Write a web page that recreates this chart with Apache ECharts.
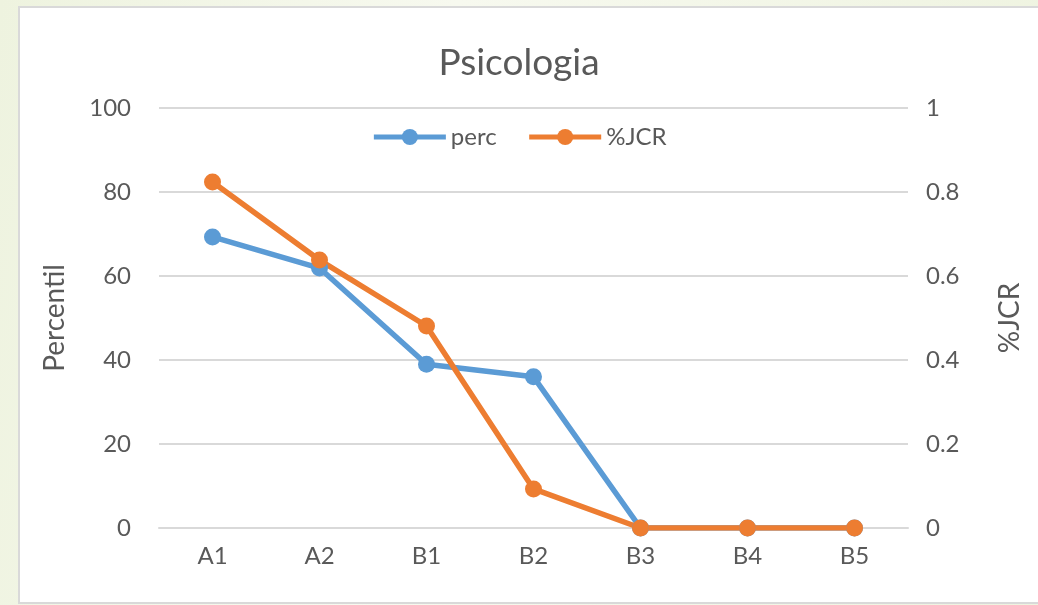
<!DOCTYPE html>
<html>
<head>
<meta charset="utf-8">
<script src="https://cdn.jsdelivr.net/npm/echarts@6/dist/echarts.min.js"></script>
<style>
  html, body { margin: 0; padding: 0; }
  body {
    width: 1038px; height: 605px; overflow: hidden; position: relative;
    background: linear-gradient(100deg, #eef3df 0%, #f7f9ef 40%, #eef3df 100%);
  }
  #card {
    position: absolute; left: 18px; top: 6px; width: 1030px; height: 594px;
    background: #fff; border: 2px solid #d9d9d9;
  }
  #main { position: absolute; left: 0; top: 0; width: 1038px; height: 605px; }
</style>
</head>
<body>
<div id="card"></div>
<div id="main"></div>
<script>
// dados
const categories = ['A1', 'A2', 'B1', 'B2', 'B3', 'B4', 'B5']
const percValues = [69.3, 61.9, 39, 36, 0, 0, 0]
const jcrValues = [0.824, 0.638, 0.481, 0.093, 0, 0, 0]
const leftTicks = [0, 20, 40, 60, 80, 100]
const rightTicks = [0, 0.2, 0.4, 0.6, 0.8, 1]

const textColor = '#595959'
const font = 'Lato, "Open Sans", sans-serif'

const chart = echarts.init(document.getElementById('main'))
const option = {
  backgroundColor: 'transparent',
  animation: false,
  textStyle: { fontFamily: font },
  title: {
    text: 'Psicologia',
    left: 'center',
    top: 40,
    textStyle: { color: textColor, fontSize: 37, fontWeight: 'normal', fontFamily: font }
  },
  legend: {
    top: 120,
    left: 'center',
    itemWidth: 72,
    itemHeight: 20,
    itemGap: 30,
    lineStyle: { width: 5 },
    textStyle: { color: textColor, fontSize: 24, fontFamily: font },
    data: ['perc', '%JCR']
  },
  grid: { left: 159, right: 130, top: 108, bottom: 77 },
  xAxis: {
    type: 'category',
    data: categories,
    axisLine: { lineStyle: { color: '#d9d9d9', width: 2 } },
    axisTick: { show: false },
    axisLabel: { color: textColor, fontSize: 24, margin: 16 }
  },
  yAxis: [
    {
      type: 'value',
      min: leftTicks[0],
      max: leftTicks[leftTicks.length - 1],
      interval: 20,
      name: 'Percentil',
      nameLocation: 'middle',
      nameGap: 90,
      nameTextStyle: { color: textColor, fontSize: 28 },
      axisLabel: { color: textColor, fontSize: 24, margin: 28 },
      axisLine: { show: false },
      axisTick: { show: false },
      splitLine: { lineStyle: { color: '#d9d9d9', width: 2 } }
    },
    {
      type: 'value',
      min: rightTicks[0],
      max: rightTicks[rightTicks.length - 1],
      interval: 0.2,
      name: '%JCR',
      nameLocation: 'middle',
      nameGap: 88,
      nameRotate: 90,
      nameTextStyle: { color: textColor, fontSize: 28 },
      axisLabel: { color: textColor, fontSize: 24, margin: 18 },
      axisLine: { show: false },
      axisTick: { show: false },
      splitLine: { show: false }
    }
  ],
  series: [
    {
      name: 'perc',
      type: 'line',
      data: percValues,
      yAxisIndex: 0,
      symbol: 'circle',
      symbolSize: 17,
      color: '#5b9bd5',
      lineStyle: { width: 5.5 }
    },
    {
      name: '%JCR',
      type: 'line',
      data: jcrValues,
      yAxisIndex: 1,
      symbol: 'circle',
      symbolSize: 17,
      color: '#ed7d31',
      lineStyle: { width: 5.5 }
    }
  ]
}
chart.setOption(option)
</script>
</body>
</html>
